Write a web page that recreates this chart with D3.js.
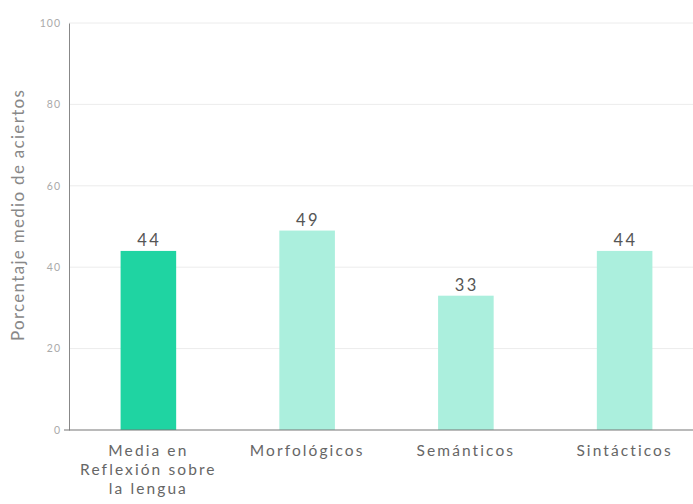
<!DOCTYPE html>
<html><head><meta charset="utf-8">
<script src="https://cdn.jsdelivr.net/npm/d3@7"></script>
<style>
html,body{margin:0;padding:0;background:#fff;}
svg{display:block;font-family:Lato,"Noto Sans",sans-serif;}
</style></head>
<body>
<svg id="chart" width="693" height="504"></svg>
<script>
const categories = [["Media en","Reflexión sobre","la lengua"],["Morfológicos"],["Semánticos"],["Sintácticos"]];
const categoryKeys = ["Media en Reflexión sobre la lengua","Morfológicos","Semánticos","Sintácticos"];
const values = [44, 49, 33, 44];
const yTicks = [0, 20, 40, 60, 80, 100];
const yTitle = "Porcentaje medio de aciertos";

const svg = d3.select("#chart");
const x = d3.scaleBand().domain(categoryKeys).range([69, 704]).paddingInner(0.65).paddingOuter(0.325);
const y = d3.scaleLinear().domain([0, 100]).range([430, 23]);

// gridlines
svg.append("g").selectAll("line").data(yTicks.filter(d => d > 0)).join("line")
  .attr("x1", 69).attr("x2", 693)
  .attr("y1", d => y(d)).attr("y2", d => y(d))
  .attr("stroke", "#ececec").attr("stroke-width", 1);

// bars
svg.append("g").selectAll("rect").data(values).join("rect")
  .attr("x", (d, i) => x(categoryKeys[i]))
  .attr("width", x.bandwidth())
  .attr("y", d => y(d))
  .attr("height", d => y(0) - y(d))
  .attr("fill", (d, i) => i === 0 ? "#1fd4a2" : "#abefdd");

// value labels
svg.append("g").selectAll("text").data(values).join("text")
  .attr("x", (d, i) => x(categoryKeys[i]) + x.bandwidth() / 2 + 1)
  .attr("y", d => y(d) - 5)
  .attr("text-anchor", "middle")
  .attr("font-size", 16.5)
  .attr("letter-spacing", 2.5)
  .attr("fill", "#555")
  .text(d => d);

// y axis
const yAxis = d3.axisLeft(y).tickValues(yTicks).tickSize(0).tickPadding(8);
const gy = svg.append("g").attr("transform", "translate(69,0)").call(yAxis);
gy.select(".domain").attr("stroke", "#888").attr("stroke-width", 1);
gy.selectAll("text").attr("font-size", 10.5).attr("letter-spacing", 1).attr("fill", "#aaa").attr("font-family", "Lato,sans-serif");

// baseline
svg.append("line").attr("x1", 64).attr("x2", 693).attr("y1", y(0)).attr("y2", y(0))
  .attr("stroke", "#777").attr("stroke-width", 1.2);

// x labels
const gx = svg.append("g");
categoryKeys.forEach((k, i) => {
  categories[i].forEach((line, j) => {
    gx.append("text")
      .attr("x", x(k) + x.bandwidth() / 2)
      .attr("y", 456 + j * 19)
      .attr("text-anchor", "middle")
      .attr("font-size", 15.5)
      .attr("letter-spacing", 2.1)
      .attr("fill", "#666")
      .text(line);
  });
});

// y title
svg.append("text")
  .attr("transform", `translate(24,215) rotate(-90)`)
  .attr("text-anchor", "middle")
  .attr("font-size", 17)
  .attr("letter-spacing", 1.3)
  .attr("fill", "#888")
  .text(yTitle);
</script>
</body></html>
